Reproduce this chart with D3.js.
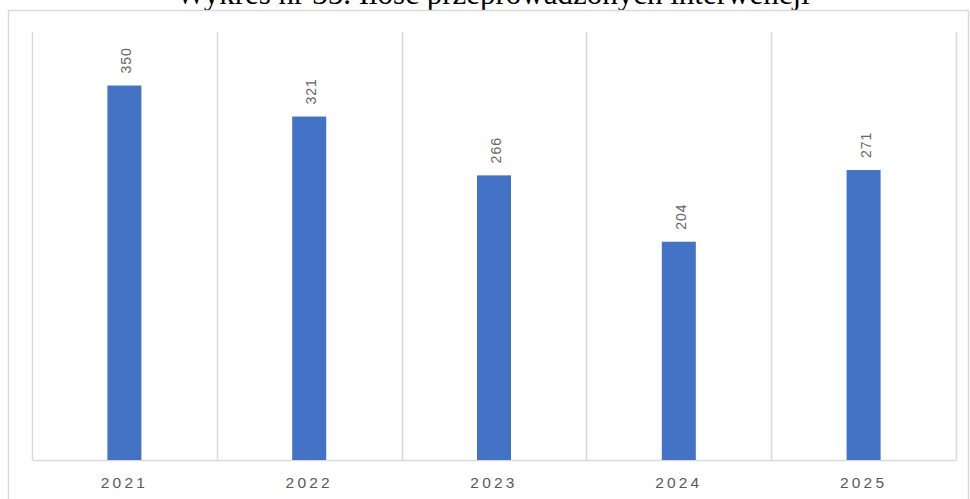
<!DOCTYPE html>
<html>
<head>
<meta charset="utf-8">
<script src="https://cdn.jsdelivr.net/npm/d3@7"></script>
<style>
  body { margin: 0; background: #fff; }
  svg { display: block; }
</style>
</head>
<body>
<div id="chart-area"></div>
<script>
const years = ['2021', '2022', '2023', '2024', '2025'];
const interventions = [350, 321, 266, 204, 271];
const yDomain = [0, 400];
const title = 'Wykres nr 35. Ilość przeprowadzonych interwencji';

const drawChart = () => {
  const chartSize = { width: 970, height: 499 };
  const margin = { left: 32, right: 14, top: 32, bottom: 39 };
  const width = chartSize.width - margin.left - margin.right;
  const height = chartSize.height - margin.top - margin.bottom;

  const svg = d3.select('#chart-area').append('svg')
    .attr('width', chartSize.width)
    .attr('height', chartSize.height);

  // title, cut at the top edge like in the source
  svg.append('text')
    .attr('x', 493)
    .attr('y', 4)
    .attr('text-anchor', 'middle')
    .style('font-family', "'Liberation Serif', 'Times New Roman', serif")
    .attr('font-size', 31)
    .attr('fill', '#000')
    .text(title);

  // chart frame
  svg.append('rect')
    .attr('x', 8.5)
    .attr('y', 10.5)
    .attr('width', 960)
    .attr('height', 520)
    .attr('fill', 'none')
    .attr('stroke', '#d9d9d9')
    .attr('stroke-width', 1.5);

  const x = d3.scaleBand()
    .domain(years)
    .range([0, width])
    .paddingInner(0)
    .paddingOuter(0);

  const y = d3.scaleLinear()
    .domain(yDomain)
    .range([height, 0]);

  const g = svg.append('g')
    .attr('transform', `translate(${margin.left},${margin.top})`);

  // vertical gridlines at the band edges
  const edges = years.map(d => x(d)).concat([width]);
  g.selectAll('.grid')
    .data(edges)
    .enter()
    .append('line')
    .attr('class', 'grid')
    .attr('x1', d => Math.round(d) + 0.5)
    .attr('x2', d => Math.round(d) + 0.5)
    .attr('y1', 0)
    .attr('y2', height)
    .attr('stroke', '#d9d9d9')
    .attr('stroke-width', 1.5);

  const xAxis = d3.axisBottom(x).tickSize(0).tickPadding(17);
  const ax = g.append('g')
    .attr('class', 'x axis')
    .attr('transform', `translate(0,${height})`)
    .call(xAxis);
  ax.select('.domain').attr('stroke', '#d9d9d9').attr('stroke-width', 1.5);
  ax.selectAll('text')
    .style('font-family', "'Liberation Sans', Arial, sans-serif")
    .attr('font-size', 15.5)
    .attr('letter-spacing', '3.2px')
    .attr('fill', '#595959');

  const barW = 34;
  g.selectAll('rect.bar')
    .data(interventions)
    .enter()
    .append('rect')
    .attr('class', 'bar')
    .attr('x', (v, i) => x(years[i]) + x.bandwidth() / 2 - barW / 2)
    .attr('y', v => y(v))
    .attr('width', barW)
    .attr('height', v => height - y(v))
    .attr('fill', '#4472c4');

  g.selectAll('text.value')
    .data(interventions)
    .enter()
    .append('text')
    .attr('class', 'value')
    .attr('transform', (v, i) =>
      `translate(${x(years[i]) + x.bandwidth() / 2 + 2},${y(v) - 12}) rotate(-90)`)
    .attr('dy', '0.35em')
    .attr('text-anchor', 'start')
    .style('font-family', "'Liberation Sans', Arial, sans-serif")
    .attr('font-size', 14)
    .attr('letter-spacing', '1px')
    .attr('fill', '#666')
    .text(v => v);
};

window.onload = drawChart;
</script>
</body>
</html>
